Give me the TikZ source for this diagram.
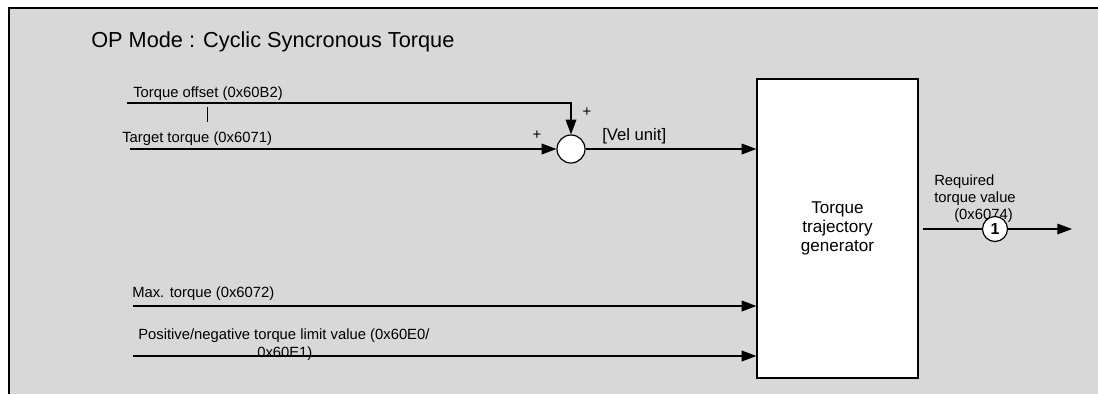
\documentclass[tikz,border=0pt]{standalone}
\usepackage{fontspec}
\setmainfont{Liberation Sans}
\usetikzlibrary{arrows.meta}
\begin{document}
\begin{tikzpicture}[x=0.75pt,y=-0.75pt,
  sig/.style={line width=0.9pt,-{Triangle[length=11pt,width=8pt]}},
  lbl/.style={font=\fontsize{11.1pt}{13pt}\selectfont,inner sep=0pt,anchor=base west},
  sumnode/.style={circle,draw,line width=0.9pt,fill=white,minimum size=21pt,inner sep=0pt},
  numnode/.style={circle,draw,line width=0.9pt,fill=white,minimum size=18.75pt,inner sep=0pt,font=\fontsize{12pt}{13pt}\selectfont\bfseries},
  blockbox/.style={draw,line width=0.9pt,fill=white,minimum width=120.75pt,minimum height=224.25pt,align=center,font=\fontsize{12.8pt}{14.3pt}\selectfont}
]
\useasboundingbox (0,0) rectangle (1098,394);
\fill[fill={rgb,255:red,216;green,216;blue,216}] (9,8) rectangle (1098,394);
\draw[line width=1.2pt] (9,394) -- (9,8) -- (1098,8);

\node[inner sep=0pt,anchor=base west,font=\fontsize{16.3pt}{18pt}\selectfont] (title) at (91,47) {OP Mode : Cyclic Syncronous Torque};

\node[sumnode] (sum) at (571,149) {};
\node[blockbox] (box) at (837.5,228.5) {Torque\\trajectory\\generator};

\node[lbl] (offl) at (133,97) {Torque offset (0x60B2)};
\node[lbl] (tgtl) at (122,142) {Target torque (0x6071)};
\node[lbl] (maxl) at (132,297) {Max. torque (0x6072)};
\node[lbl] (posl) at (138,339) {Positive/negative torque limit value (0x60E0/};
\node[lbl] (posl2) at (257,357) {0x60E1)};
\node[lbl,font=\fontsize{12.5pt}{14pt}\selectfont] (vell) at (602,140) {[Vel unit]};
\node[lbl,anchor=center] (plus1) at (587,112) {+};
\node[lbl,anchor=center] (plus2) at (537,135) {+};
\node[lbl] (req1) at (934,185) {Required};
\node[lbl] (req2) at (934,202) {torque value};
\node[lbl] (req3) at (954,219) {(0x6074)};

\coordinate (offs) at (127,103);
\coordinate (tgts) at (130,149);
\coordinate (maxs) at (133,306);
\coordinate (poss) at (133,356);
\coordinate (outs) at (923,229);
\coordinate (oute) at (1072,229);
\coordinate (ticka) at (207,107);
\coordinate (tickb) at (207,122);

\draw[sig] (offs) -| (sum.north);
\draw[line width=0.6pt] (ticka) -- (tickb);
\draw[sig] (tgts) -- (sum.west);
\draw[sig] (sum.east) -- (box.west |- sum);
\draw[sig] (maxs) -- (box.west |- maxs);
\draw[sig] (poss) -- (box.west |- poss);
\draw[sig] (outs) -- (oute);
\node[numnode] (one) at (995,229) {1};
\end{tikzpicture}
\end{document}
